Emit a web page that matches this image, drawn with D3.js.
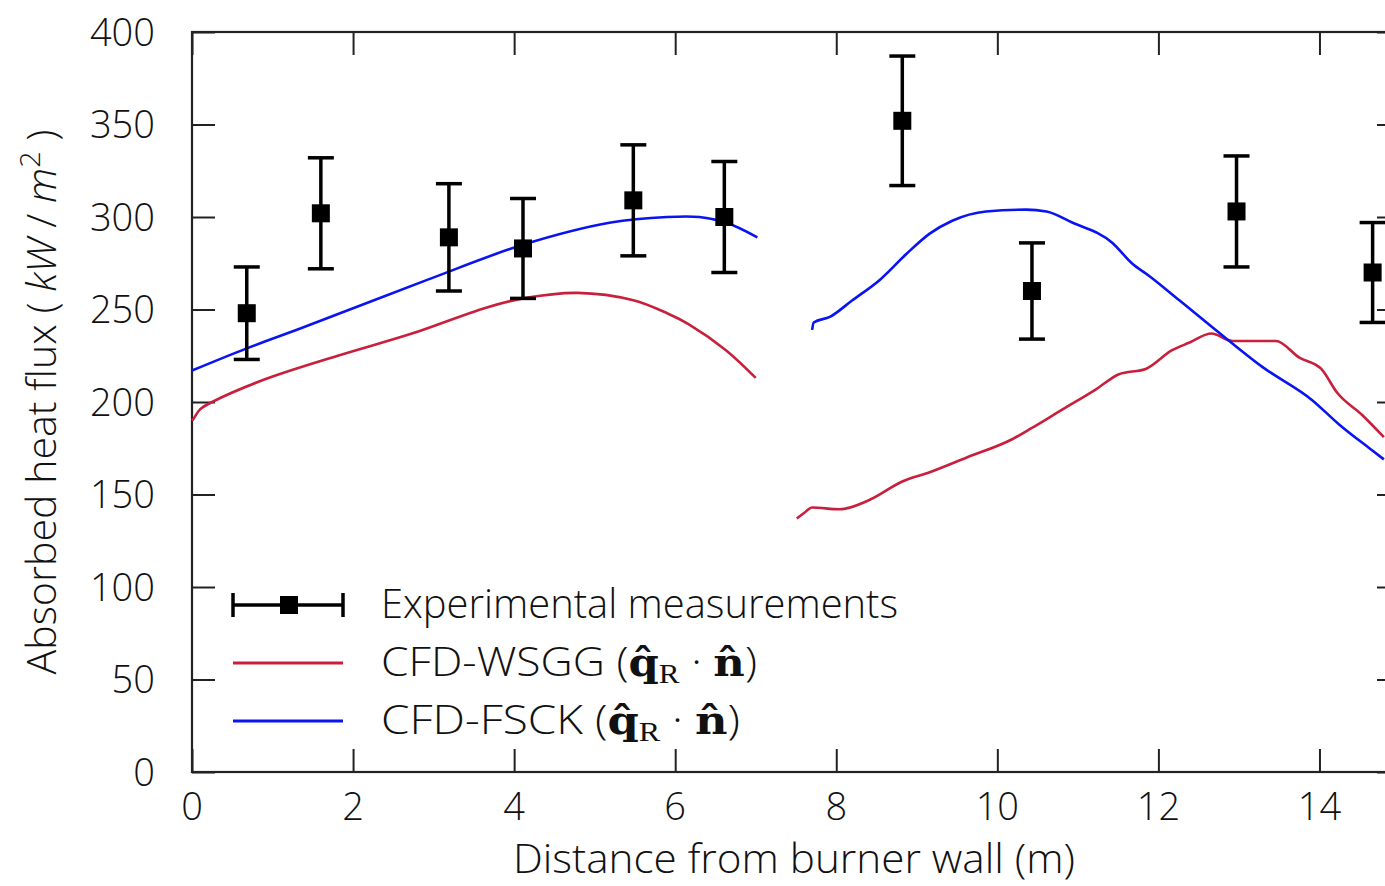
<!DOCTYPE html>
<html>
<head>
<meta charset="utf-8">
<script src="https://cdn.jsdelivr.net/npm/d3@7"></script>
<style>
body { margin: 0; background: #fff; }
text { font-family: "Open Sans", "Noto Sans", sans-serif; font-weight: 360; fill: #111; }
.frame { fill: none; stroke: #222; stroke-width: 2.2; }
.tick line { stroke: #222; stroke-width: 2; }
</style>
</head>
<body>
<script>
// experimental points: x (m), flux (kW/m2), error half-width
var expX   = [0.68, 1.60, 3.19, 4.11, 5.48, 6.61, 8.82, 10.43, 12.97, 14.66];
var expY   = [248, 302, 289, 283, 309, 300, 352, 260, 303, 270];
var expErr = [25, 30, 29, 27, 30, 30, 35, 26, 30, 27];

// CFD-WSGG (red), two segments
var wsggX1 = [0, 0.02, 0.1, 0.25, 0.89, 1.81, 2.73, 3.65, 4.11, 4.79, 5.48, 5.9, 6.17, 6.63, 7.0];
var wsggY1 = [190, 191, 196, 200, 212, 225, 237, 251, 256, 259, 255, 248, 242, 228, 213];
var wsggX2 = [7.51, 7.6, 7.7, 8.04, 8.41, 8.82, 9.16, 9.62, 10.19, 10.43, 10.81, 11.23, 11.51, 11.85,
              12.17, 12.38, 12.66, 12.92, 13.46, 13.75, 14.02, 14.22, 14.53, 14.8];
var wsggY2 = [137, 140, 143, 142, 147, 157, 162, 170, 180, 186, 196, 207, 215, 218,
              228, 232, 237, 233, 233, 224, 218, 205, 193, 181];

// CFD-FSCK (blue), two segments
var fsckX1 = [0, 0.68, 1.36, 2.92, 4.11, 5.2, 5.9, 6.3, 6.63, 7.02];
var fsckY1 = [217, 229, 240, 266, 285, 297, 300, 300, 297, 289];
var fsckX2 = [7.7, 7.72, 7.92, 8.2, 8.54, 8.87, 9.16, 9.44, 9.86, 10.36, 10.61, 10.93, 11.43, 11.67,
              11.89, 12.26, 12.88, 13.29, 13.91, 14.24, 14.62, 14.8];
var fsckY2 = [239, 243, 246, 255, 266, 280, 291, 298, 303, 304, 303, 297, 286, 275,
              268, 255, 233, 219, 201, 188, 175, 169];

var xTicks = [0, 2, 4, 6, 8, 10, 12, 14];
var yTicks = [0, 50, 100, 150, 200, 250, 300, 350, 400];

var RED = "#c8203c", BLUE = "#0a14f0";

var W = 1385, H = 886;
var L = 192, R = 1400, T = 32, B = 772, TK = 23;

var svg = d3.select("body").append("svg").attr("width", W).attr("height", H);

var x = d3.scaleLinear().domain([0, 15]).range([L, R]);
var y = d3.scaleLinear().domain([0, 400]).range([B, T]);

// axes, ticks inward on all four sides
svg.append("g").attr("class", "tick").attr("transform", "translate(0," + B + ")")
  .call(d3.axisBottom(x).tickValues(xTicks).tickSize(-TK).tickFormat(""))
  .call(function(g) { g.select(".domain").remove(); });
svg.append("g").attr("class", "tick").attr("transform", "translate(0," + T + ")")
  .call(d3.axisTop(x).tickValues(xTicks).tickSize(-TK).tickFormat(""))
  .call(function(g) { g.select(".domain").remove(); });
svg.append("g").attr("class", "tick").attr("transform", "translate(" + L + ",0)")
  .call(d3.axisLeft(y).tickValues(yTicks).tickSize(-TK).tickFormat(""))
  .call(function(g) { g.select(".domain").remove(); });
svg.append("g").attr("class", "tick").attr("transform", "translate(" + R + ",0)")
  .call(d3.axisRight(y).tickValues(yTicks).tickSize(-TK).tickFormat(""))
  .call(function(g) { g.select(".domain").remove(); });

svg.append("rect").attr("class", "frame")
  .attr("x", L).attr("y", T).attr("width", R - L).attr("height", B - T);

// tick labels
svg.append("g").selectAll("text").data(xTicks).enter().append("text")
  .attr("x", function(d) { return x(d); }).attr("y", B + 48)
  .attr("text-anchor", "middle").style("font-size", "38px")
  .text(function(d) { return d; });
svg.append("g").selectAll("text").data(yTicks).enter().append("text")
  .attr("x", L - 37).attr("y", function(d) { return y(d); }).attr("dy", "0.36em")
  .attr("text-anchor", "end").style("font-size", "38px")
  .text(function(d) { return d; });

// axis titles
svg.append("text").attr("x", 794).attr("y", 873).attr("text-anchor", "middle")
  .style("font-size", "40px").attr("textLength", 562).attr("lengthAdjust", "spacingAndGlyphs")
  .text("Distance from burner wall (m)");

var yl = svg.append("text").attr("transform", "translate(56,402) rotate(-90)")
  .attr("text-anchor", "middle").style("font-size", "40px")
  .attr("textLength", 545).attr("lengthAdjust", "spacingAndGlyphs");
yl.append("tspan").text("Absorbed heat flux ( ");
yl.append("tspan").style("font-style", "italic").text("kW");
yl.append("tspan").text(" / ");
yl.append("tspan").style("font-style", "italic").text("m");
yl.append("tspan").attr("dy", -16).style("font-size", "28px").text("2");
yl.append("tspan").attr("dy", 16).text(" )");

// model curves
var smooth = d3.line().x(function(d) { return x(d[0]); }).y(function(d) { return y(d[1]); })
  .curve(d3.curveCatmullRom.alpha(0.5));
var rough = d3.line().x(function(d) { return x(d[0]); }).y(function(d) { return y(d[1]); })
  .curve(d3.curveMonotoneX);
function pairs(xs, ys) { return xs.map(function(v, i) { return [v, ys[i]]; }); }

var plot = svg.append("g");
[[wsggX1, wsggY1, RED, smooth], [wsggX2, wsggY2, RED, rough],
 [fsckX1, fsckY1, BLUE, smooth], [fsckX2, fsckY2, BLUE, rough]]
  .forEach(function(s) {
    plot.append("path").attr("d", s[3](pairs(s[0], s[1])))
      .attr("fill", "none").attr("stroke", s[2]).attr("stroke-width", 2.6);
  });

// experimental points with error bars
var pts = expX.map(function(v, i) { return {x: v, y: expY[i], e: expErr[i]}; });
var eb = plot.append("g").selectAll("g").data(pts).enter().append("g")
  .attr("stroke", "#000").attr("stroke-width", 3.5);
eb.append("line")
  .attr("x1", function(d) { return x(d.x); }).attr("x2", function(d) { return x(d.x); })
  .attr("y1", function(d) { return y(d.y - d.e); }).attr("y2", function(d) { return y(d.y + d.e); });
eb.append("line")
  .attr("x1", function(d) { return x(d.x) - 13; }).attr("x2", function(d) { return x(d.x) + 13; })
  .attr("y1", function(d) { return y(d.y + d.e); }).attr("y2", function(d) { return y(d.y + d.e); });
eb.append("line")
  .attr("x1", function(d) { return x(d.x) - 13; }).attr("x2", function(d) { return x(d.x) + 13; })
  .attr("y1", function(d) { return y(d.y - d.e); }).attr("y2", function(d) { return y(d.y - d.e); });
eb.append("rect").attr("stroke", "none").attr("fill", "#000")
  .attr("x", function(d) { return x(d.x) - 9; }).attr("y", function(d) { return y(d.y) - 9; })
  .attr("width", 18).attr("height", 18);

// legend
var lg = svg.append("g");
var lx0 = 233, lx1 = 343, tx = 381;
lg.append("line").attr("x1", lx0).attr("x2", lx1).attr("y1", 605).attr("y2", 605)
  .attr("stroke", "#000").attr("stroke-width", 3.5);
lg.append("line").attr("x1", lx0).attr("x2", lx0).attr("y1", 593).attr("y2", 617)
  .attr("stroke", "#000").attr("stroke-width", 3.5);
lg.append("line").attr("x1", lx1).attr("x2", lx1).attr("y1", 593).attr("y2", 617)
  .attr("stroke", "#000").attr("stroke-width", 3.5);
lg.append("rect").attr("x", 280).attr("y", 596).attr("width", 18).attr("height", 18).attr("fill", "#000");
lg.append("line").attr("x1", lx0).attr("x2", lx1).attr("y1", 663).attr("y2", 663)
  .attr("stroke", RED).attr("stroke-width", 3);
lg.append("line").attr("x1", lx0).attr("x2", lx1).attr("y1", 721).attr("y2", 721)
  .attr("stroke", BLUE).attr("stroke-width", 3);

lg.append("text").attr("x", tx).attr("y", 618).style("font-size", "40px")
  .attr("textLength", 517).attr("lengthAdjust", "spacingAndGlyphs")
  .text("Experimental measurements");

function mathLabel(name, yy, len) {
  var t = lg.append("text").attr("x", tx).attr("y", yy).style("font-size", "40px")
    .attr("textLength", len).attr("lengthAdjust", "spacingAndGlyphs");
  t.append("tspan").text(name + " (");
  t.append("tspan").style("font-family", "'DejaVu Serif', serif").style("font-weight", "bold")
    .style("font-size", "39px").text("q\u0302");
  t.append("tspan").attr("dy", 7).style("font-family", "'Liberation Serif', serif")
    .style("font-size", "28px").text("R");
  t.append("tspan").attr("dy", -7).text(" \u00b7 ");
  t.append("tspan").style("font-family", "'DejaVu Serif', serif").style("font-weight", "bold")
    .style("font-size", "39px").text("n\u0302");
  t.append("tspan").text(")");
}
mathLabel("CFD-WSGG", 676, 376);
mathLabel("CFD-FSCK", 734, 359);
</script>
</body>
</html>
